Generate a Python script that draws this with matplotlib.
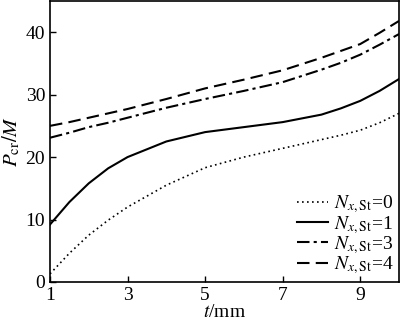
import matplotlib
matplotlib.use("Agg")
import matplotlib.pyplot as plt

plt.rcParams['font.family'] = ['Liberation Serif', 'DejaVu Serif']
plt.rcParams['mathtext.fontset'] = 'stix'

t = [1, 1.5, 2, 2.5, 3, 4, 5, 6, 7, 8, 8.5, 9, 9.5, 10]
n0 = [1.3, 4.6, 7.5, 9.9, 12.0, 15.5, 18.3, 20.0, 21.4, 22.8, 23.5, 24.3, 25.5, 27.0]
n1 = [9.2, 12.8, 15.8, 18.2, 20.0, 22.5, 24.0, 24.8, 25.6, 26.8, 27.8, 29.0, 30.6, 32.5]
n3 = [23.1, 23.9, 24.8, 25.5, 26.3, 27.9, 29.3, 30.6, 32.0, 34.0, 35.1, 36.4, 38.0, 39.7]
n4 = [25.0, 25.6, 26.3, 27.0, 27.7, 29.3, 31.0, 32.4, 33.9, 35.9, 37.0, 38.1, 39.9, 41.8]
labels = [r'$N_{x,\mathrm{St}}$=0', r'$N_{x,\mathrm{St}}$=1',
          r'$N_{x,\mathrm{St}}$=3', r'$N_{x,\mathrm{St}}$=4']
xticks = [1, 3, 5, 7, 9]
yticks = [0, 10, 20, 30, 40]

fig = plt.figure(figsize=(4.0, 3.23), dpi=100)
ax = fig.add_axes([0.125, 0.127, 0.8725, 0.87])
ax.plot(t, n0, color='black', lw=1.2, linestyle=(0, (1, 2)), label=labels[0])
ax.plot(t, n1, color='black', lw=1.5, linestyle='-', label=labels[1])
ax.plot(t, n3, color='black', lw=1.5, linestyle=(0, (6, 2, 1.5, 2)), label=labels[2])
ax.plot(t, n4, color='black', lw=1.5, linestyle=(0, (6, 3)), label=labels[3])

ax.set_xlim(1, 10)
ax.set_ylim(0, 45)
ax.set_xticks(xticks)
ax.set_yticks(yticks)
ax.tick_params(direction='in', labelsize=14, length=4, width=1)
for s in ax.spines.values():
    s.set_linewidth(1.2)
ax.set_xlabel(r'$t$/mm', fontsize=14, labelpad=0)
ax.set_ylabel(r'$P_{\mathrm{cr}}/M$', fontsize=15, labelpad=2)
ax.legend(loc='lower right', frameon=False, fontsize=14, handlelength=1.6,
          handletextpad=0.3, labelspacing=-0.08, borderaxespad=0.1,
          borderpad=0.2)
fig.savefig('out.png', dpi=100)
